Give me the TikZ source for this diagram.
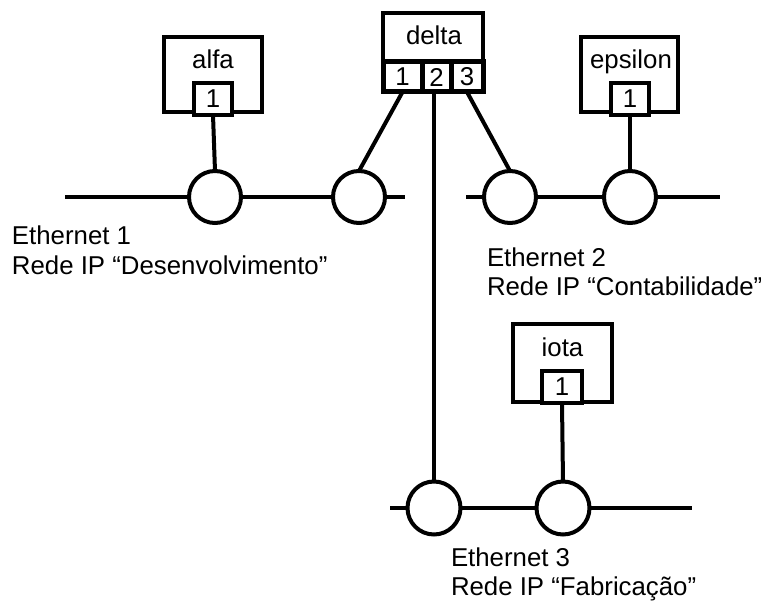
\documentclass[tikz,border=0pt]{standalone}
\usepackage{fontspec}
\setmainfont{Liberation Sans}
\begin{document}
\begin{tikzpicture}[x=1pt,y=-1pt,
  every node/.style={font=\fontsize{25.8}{30}\selectfont, inner sep=0pt, outer sep=0pt},
  hostbox/.style={draw, line width=4pt, fill=white, rectangle},
  portbox/.style={draw, line width=4pt, fill=white, rectangle, minimum width=38pt, minimum height=32pt},
  dport/.style={draw, line width=5pt, fill=white, rectangle, minimum height=30pt},
  tap/.style={draw, line width=4pt, fill=white, circle, minimum size=52pt},
  wire/.style={line width=4pt},
  lbl/.style={anchor=base west}
]
\useasboundingbox (0,0) rectangle (761,601);

% Ethernet segments
\coordinate (e1a) at (65,197);  \coordinate (e1b) at (405,197);
\coordinate (e2a) at (466,197); \coordinate (e2b) at (720,197);
\coordinate (e3a) at (390,508); \coordinate (e3b) at (692,508);
\draw[wire] (e1a) -- (e1b);
\draw[wire] (e2a) -- (e2b);
\draw[wire] (e3a) -- (e3b);

% taps
\node[tap] (c11) at (215,197) {};
\node[tap] (c12) at (359,197) {};
\node[tap] (c21) at (510,197) {};
\node[tap] (c22) at (630,197) {};
\node[tap, minimum size=53pt] (c31) at (434,508) {};
\node[tap, minimum size=53pt] (c32) at (563,508) {};

% alfa
\node[hostbox, minimum width=98pt, minimum height=75pt] (alfa) at (213,74.5) {};
\node[anchor=base] (alfat) at (213,69) {alfa};
\node[portbox] (alfap) at (213,99) {1};
% epsilon
\node[hostbox, minimum width=97pt, minimum height=75pt] (eps) at (629.5,74.5) {};
\node[anchor=base] (epst) at (631,69) {epsilon};
\node[portbox] (epsp) at (630,99) {1};
% iota
\node[hostbox, minimum width=99pt, minimum height=78pt] (iota) at (562.5,363) {};
\node[anchor=base] (iotat) at (562.5,357) {iota};
\node[portbox, minimum width=40pt] (iotap) at (562,387) {1};
% delta
\node[hostbox, minimum width=100pt, minimum height=49pt] (delta) at (433,37.5) {};
\node[anchor=base] (deltat) at (434,45) {delta};
\node[dport, minimum width=39pt] (dp1) at (402.5,77) {1};
\node[dport, minimum width=29pt] (dp2) at (436.5,77) {2};
\node[dport, minimum width=32pt] (dp3) at (467,77) {3};

% connectors
\draw[wire] (alfap.south) -- (c11.north);
\draw[wire] (epsp.south) -- (c22.north);
\draw[wire] (iotap.south) -- (c32.north);
\draw[wire] (dp1.south) -- (c12.north);
\draw[wire] (dp3.south) -- (c21.north);
\draw[wire] (dp2.south -| c31.north) -- (c31.north);

% labels
\node[lbl] (l1a) at (12,245) {Ethernet 1};
\node[lbl] (l1b) at (12,275) {Rede IP “Desenvolvimento”};
\node[lbl] (l2a) at (487,267) {Ethernet 2};
\node[lbl] (l2b) at (487,296) {Rede IP “Contabilidade”};
\node[lbl] (l3a) at (451,566) {Ethernet 3};
\node[lbl] (l3b) at (451,595) {Rede IP “Fabricação”};
\end{tikzpicture}
\end{document}
